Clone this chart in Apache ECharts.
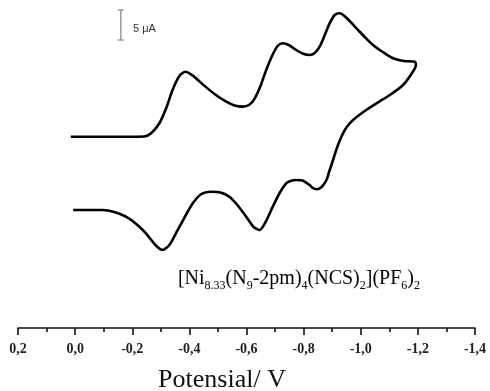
<!DOCTYPE html>
<html>
<head>
<meta charset="utf-8">
<script src="https://cdn.jsdelivr.net/npm/echarts@6/dist/echarts.min.js"></script>
<style>
  html, body { margin: 0; padding: 0; background: #fff; }
  #chart { width: 490px; height: 391px; }
</style>
</head>
<body>
<div id="chart"></div>
<script>
// cyclic voltammogram, potential in V, current in uA (arbitrary offset)
const fwdPotential = [0.015, -0.084, -0.189, -0.242, -0.267, -0.295, -0.319, -0.341, -0.365, -0.386,
    -0.411, -0.447, -0.488, -0.529, -0.558, -0.587, -0.611, -0.628, -0.649, -0.669,
    -0.691, -0.709, -0.727, -0.751, -0.774, -0.796, -0.821, -0.839, -0.856, -0.874,
    -0.891, -0.909, -0.926, -0.947, -0.985, -1.014, -1.043, -1.077, -1.113, -1.151, -1.189];
const fwdCurrent = [31.88, 31.88, 31.88, 31.92, 32.5, 34.12, 36.67, 39.67, 42.0, 42.72,
    42.1, 40.6, 39.0, 37.72, 37.1, 36.9, 37.25, 38.2, 40.33, 43.0,
    45.5, 47.0, 47.45, 47.08, 46.33, 45.75, 45.5, 45.83, 46.88, 48.83,
    50.78, 52.17, 52.45, 51.83, 49.95, 48.5, 47.17, 46.0, 44.95, 44.5, 44.38];

const revPotential = [-1.193, -1.182, -1.148, -1.102, -1.055, -1.014, -0.973, -0.951, -0.938, -0.919,
    -0.903, -0.888, -0.880, -0.863, -0.845, -0.832, -0.821, -0.796, -0.774, -0.754,
    -0.739, -0.716, -0.692, -0.667, -0.646, -0.625, -0.599, -0.568, -0.540, -0.509,
    -0.476, -0.442, -0.412, -0.382, -0.353, -0.330, -0.306, -0.281, -0.248, -0.214,
    -0.178, -0.137, -0.096, -0.049, 0.007];
const revCurrent = [43.83, 42.67, 40.5, 38.83, 37.45, 36.17, 34.67, 33.5, 32.45, 30.33,
    28.0, 25.83, 24.67, 23.5, 23.12, 23.33, 23.83, 24.58, 24.67, 24.5,
    24.12, 22.5, 20.22, 17.67, 16.33, 16.83, 18.55, 20.5, 21.88, 22.58,
    22.72, 22.33, 20.78, 18.33, 15.78, 13.83, 13.0, 13.83, 15.78, 17.33,
    18.55, 19.33, 19.67, 19.67, 19.67];

// 5 uA scale bar
const scaleBarPotential = [-0.16, -0.16];
const scaleBarCurrent = [48, 53];

const xTicks = {min: -1.4, max: 0.2, step: 0.2};

const cvData = fwdPotential.map((e, i) => [e, fwdCurrent[i]])
    .concat(revPotential.map((e, i) => [e, revCurrent[i]]));
const barData = scaleBarPotential.map((e, i) => [e, scaleBarCurrent[i]]);

const chart = echarts.init(document.getElementById('chart'));

const fmt = v => {
    let r = Math.round(v * 10) / 10;
    if (Math.abs(r) < 1e-9) r = 0;
    return r.toFixed(1).replace('.', ',');
};

chart.setOption({
    backgroundColor: '#fff',
    animation: false,
    grid: {left: 18, right: 15, top: 10, bottom: 63, containLabel: false, outerBoundsMode: 'none'},
    xAxis: {
        type: 'value',
        inverse: true,
        min: xTicks.min,
        max: xTicks.max,
        interval: xTicks.step,
        axisLine: {show: true, onZero: false, lineStyle: {color: '#111', width: 1.5}},
        axisTick: {show: true, length: 7, lineStyle: {color: '#111', width: 1.6}},
        minorTick: {show: true, splitNumber: 2, length: 4, lineStyle: {color: '#111', width: 1.6}},
        splitLine: {show: false},
        axisLabel: {
            margin: 14,
            formatter: fmt,
            fontFamily: 'Liberation Serif',
            fontWeight: 'bold',
            fontSize: 14,
            color: '#222',
            hideOverlap: false,
            showMinLabel: true,
            showMaxLabel: true
        }
    },
    yAxis: {
        type: 'value',
        show: false,
        min: 0,
        max: 53
    },
    series: [
        {
            name: 'CV',
            type: 'line',
            data: cvData,
            smooth: 0.25,
            showSymbol: false,
            lineStyle: {color: '#000', width: 2.6},
            silent: true
        },
        {
            name: 'scale',
            type: 'line',
            data: barData,
            symbol: 'rect',
            symbolSize: [6, 1.5],
            showSymbol: true,
            itemStyle: {color: '#9a9a9a'},
            lineStyle: {color: '#9a9a9a', width: 1.5},
            silent: true
        }
    ],
    graphic: [
        {
            type: 'text',
            left: 133, top: 23,
            style: {text: '5 \u03bcA', font: '11px "Liberation Sans"', fill: '#333'}
        },
        {
            type: 'text',
            x: 420, y: 279,
            style: {
                text: '{n|[Ni}{s|8.33}{n|(N}{s|9}{n|-2pm)}{s|4}{n|(NCS)}{s|2}{n|](PF}{s|6}{n|)}{s|2}',
                align: 'right',
                verticalAlign: 'middle',
                rich: {
                    n: {fontFamily: 'Liberation Serif', fontSize: 20, lineHeight: 26, color: '#222', verticalAlign: 'middle'},
                    s: {fontFamily: 'Liberation Serif', fontSize: 12, lineHeight: 12, padding: [14, 0, 0, 0], color: '#222', verticalAlign: 'middle'}
                }
            }
        },
        {
            type: 'text',
            x: 222, y: 380,
            style: {
                text: 'Potensial/ V',
                font: '26px "Liberation Serif"',
                fill: '#111',
                align: 'center',
                verticalAlign: 'middle'
            }
        }
    ]
});
</script>
</body>
</html>
